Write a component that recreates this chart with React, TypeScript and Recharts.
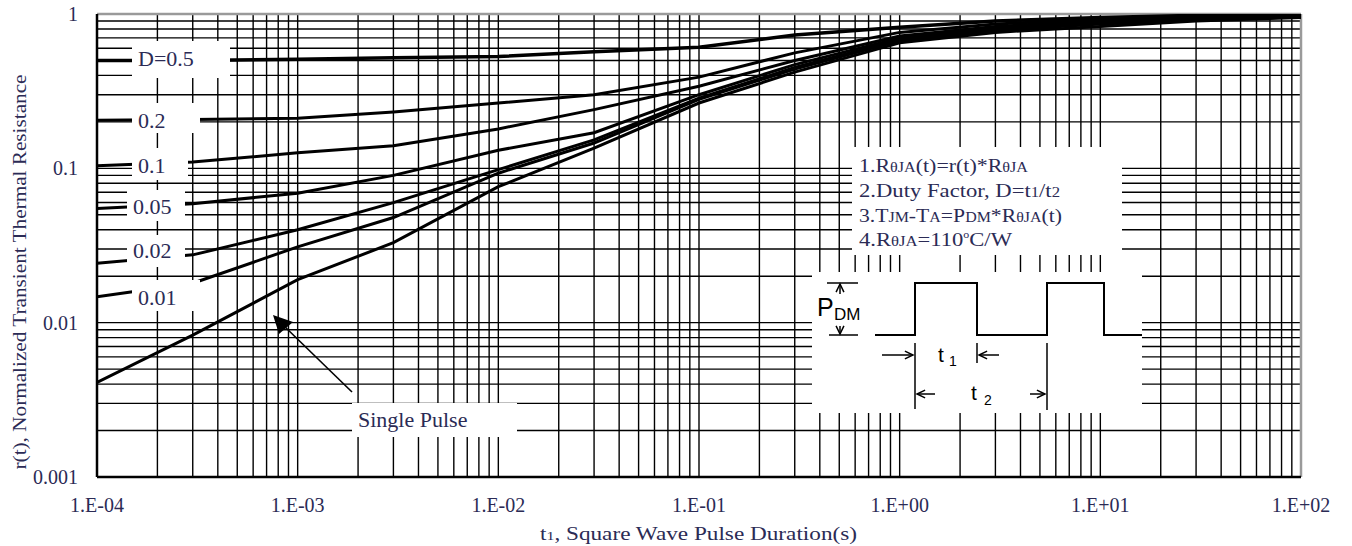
import { LineChart, Line, XAxis, YAxis, CartesianGrid, ReferenceLine } from 'recharts';

// pulse duration t1 (s)
const durations = [1e-4, 3e-4, 1e-3, 3e-3, 1e-2, 3e-2, 1e-1, 3e-1, 1, 3, 10, 30, 100];

// r(t) per duty factor
const duty05 = [0.5, 0.5, 0.51, 0.52, 0.53, 0.57, 0.61, 0.73, 0.82, 0.9, 0.95, 0.98, 1.0];
const duty02 = [0.205, 0.207, 0.211, 0.232, 0.265, 0.3, 0.39, 0.56, 0.76, 0.86, 0.93, 0.96, 0.99];
const duty01 = [0.104, 0.11, 0.126, 0.14, 0.18, 0.24, 0.34, 0.5, 0.72, 0.83, 0.91, 0.94, 0.98];
const duty005 = [0.055, 0.059, 0.069, 0.09, 0.131, 0.17, 0.3, 0.47, 0.7, 0.81, 0.89, 0.93, 0.97];
const duty002 = [0.0243, 0.0275, 0.04, 0.06, 0.098, 0.153, 0.285, 0.45, 0.68, 0.79, 0.87, 0.92, 0.96];
const duty001 = [0.0147, 0.018, 0.031, 0.048, 0.093, 0.146, 0.28, 0.44, 0.67, 0.78, 0.86, 0.91, 0.96];
const singlePulse = [0.0041, 0.0083, 0.019, 0.033, 0.076, 0.135, 0.265, 0.42, 0.65, 0.76, 0.83, 0.9, 0.95];

const xDecades = [1e-4, 1e-3, 1e-2, 1e-1, 1, 10];
const yDecades = [0.001, 0.01, 0.1];
const steps = [1, 2, 3, 4, 5, 6, 7, 8, 9];

const xTicks = [...xDecades.flatMap((d) => steps.map((s) => s * d)), 100];
const yTicks = [...yDecades.flatMap((d) => steps.map((s) => s * d)), 1];

const chartData = durations.map((t, i) => ({
  t,
  d05: duty05[i],
  d02: duty02[i],
  d01: duty01[i],
  d005: duty005[i],
  d002: duty002[i],
  d001: duty001[i],
  single: singlePulse[i],
}));

const seriesKeys = ['d05', 'd02', 'd01', 'd005', 'd002', 'd001', 'single'];

const serif = "'Liberation Serif', 'Times New Roman', serif";
const sans = "'Liberation Sans', Arial, sans-serif";
const textColor = '#2b2b55';

const isDecade = (v: number) => Math.abs(Math.log10(v) - Math.round(Math.log10(v))) < 1e-6;

const fmtX = (v: number) => {
  const e = Math.round(Math.log10(v));
  return `1.E${e < 0 ? '-' : '+'}${String(Math.abs(e)).padStart(2, '0')}`;
};

const fmtY = (v: number) => {
  const e = Math.round(Math.log10(v));
  return e === 0 ? '1' : Math.pow(10, e).toFixed(-e);
};

function XTick(props: any) {
  const { x, payload } = props;
  if (!isDecade(payload.value)) return <g />;
  return (
    <text x={x} y={512} textAnchor="middle" fontFamily={serif} fontSize={20} fill={textColor}>
      {fmtX(payload.value)}
    </text>
  );
}

function YTick(props: any) {
  const { y, payload } = props;
  if (!isDecade(payload.value)) return <g />;
  return (
    <text x={78} y={y + 7} textAnchor="end" fontFamily={serif} fontSize={20} fill={textColor}>
      {fmtY(payload.value)}
    </text>
  );
}

function Arrow({ x1, y1, x2, y2 }: { x1: number; y1: number; x2: number; y2: number }) {
  // simple open arrow pointing at (x2, y2)
  const a = Math.atan2(y2 - y1, x2 - x1);
  const len = 9;
  const spread = 0.45;
  const p1 = [x2 - len * Math.cos(a - spread), y2 - len * Math.sin(a - spread)];
  const p2 = [x2 - len * Math.cos(a + spread), y2 - len * Math.sin(a + spread)];
  return (
    <g stroke="#000" strokeWidth={1.5} fill="none">
      <line x1={x1} y1={y1} x2={x2} y2={y2} />
      <polyline points={`${p1[0]},${p1[1]} ${x2},${y2} ${p2[0]},${p2[1]}`} />
    </g>
  );
}

function Overlay() {
  const small = 14;
  return (
    <svg width={1352} height={546} style={{ position: 'absolute', left: 0, top: 0, pointerEvents: 'none' }}>
      {/* curve labels */}
      <g fill="#fff">
        <rect x={132} y={41} width={98} height={37} />
        <rect x={132} y={103} width={68} height={30} />
        <rect x={132} y={148} width={56} height={32} />
        <rect x={127} y={190} width={58} height={31} />
        <rect x={127} y={235} width={58} height={32} />
        <rect x={132} y={280} width={68} height={31} />
        <rect x={352} y={403} width={165} height={34} />
        <rect x={852} y={147} width={270} height={108} />
        <rect x={812} y={272} width={330} height={141} />
      </g>
      <g fontFamily={serif} fontSize={22} fill={textColor}>
        <text x={138} y={66}>D=0.5</text>
        <text x={138} y={128}>0.2</text>
        <text x={138} y={173}>0.1</text>
        <text x={133} y={214}>0.05</text>
        <text x={133} y={258}>0.02</text>
        <text x={138} y={305}>0.01</text>
        <text x={358} y={427}>Single Pulse</text>
      </g>

      {/* single pulse pointer */}
      <line x1={352} y1={392} x2={282} y2={324} stroke="#000" strokeWidth={1.6} />
      <polygon points="273,315 279,334 293,322" fill="#000" />

      {/* notes */}
      <g fontFamily={serif} fontSize={19} fill={textColor}>
        <text x={859} y={172} textLength={169} lengthAdjust="spacingAndGlyphs">
          1.R<tspan fontSize={small}>θJA</tspan>(t)=r(t)*R<tspan fontSize={small}>θJA</tspan>
        </text>
        <text x={859} y={197} textLength={201} lengthAdjust="spacingAndGlyphs">
          2.Duty Factor, D=t<tspan fontSize={small}>1</tspan>/t<tspan fontSize={small}>2</tspan>
        </text>
        <text x={859} y={222} textLength={203} lengthAdjust="spacingAndGlyphs">
          3.T<tspan fontSize={small}>JM</tspan>-T<tspan fontSize={small}>A</tspan>=P<tspan fontSize={small}>DM</tspan>*R
          <tspan fontSize={small}>θJA</tspan>(t)
        </text>
        <text x={859} y={246} textLength={153} lengthAdjust="spacingAndGlyphs">
          4.R<tspan fontSize={small}>θJA</tspan>=110<tspan fontSize={10} dy={-8}>o</tspan>
          <tspan dy={8}>C/W</tspan>
        </text>
      </g>

      {/* pulse train */}
      <polyline
        points="875,335 915,335 915,283 977,283 977,335 1047,335 1047,283 1104,283 1104,335 1142,335"
        fill="none"
        stroke="#000"
        strokeWidth={2}
      />
      <g stroke="#000" strokeWidth={1.5}>
        <line x1={827} y1={283} x2={858} y2={283} />
        <line x1={829} y1={335} x2={858} y2={335} />
        <line x1={915} y1={343} x2={915} y2={409} />
        <line x1={977} y1={343} x2={977} y2={363} />
        <line x1={1047} y1={343} x2={1047} y2={410} />
      </g>
      <Arrow x1={840} y1={294} x2={840} y2={284} />
      <Arrow x1={840} y1={326} x2={840} y2={334} />
      <Arrow x1={882} y1={355} x2={913} y2={355} />
      <Arrow x1={999} y1={355} x2={979} y2={355} />
      <Arrow x1={935} y1={394} x2={917} y2={394} />
      <Arrow x1={1030} y1={394} x2={1045} y2={394} />
      <g fontFamily={sans} fill="#000">
        <text x={817} y={316} fontSize={25}>P</text>
        <text x={834} y={320} fontSize={17}>DM</text>
        <text x={938} y={362} fontSize={21}>t</text>
        <text x={949} y={366} fontSize={14}>1</text>
        <text x={971} y={400} fontSize={21}>t</text>
        <text x={984} y={405} fontSize={14}>2</text>
      </g>

      {/* axis titles */}
      <text
        x={0}
        y={0}
        transform="translate(26, 272) rotate(-90)"
        textAnchor="middle"
        fontFamily={serif}
        fontSize={19}
        fill={textColor}
        textLength={395}
        lengthAdjust="spacingAndGlyphs"
      >
        r(t),  Normalized Transient Thermal Resistance
      </text>
      <text
        x={540}
        y={540}
        fontFamily={serif}
        fontSize={19}
        fill={textColor}
        textLength={317}
        lengthAdjust="spacingAndGlyphs"
      >
        t<tspan fontSize={13}>1</tspan>, Square Wave Pulse Duration(s)
      </text>
    </svg>
  );
}

export default function App() {
  return (
    <div style={{ position: 'absolute', left: 0, top: 0, width: 1352, height: 546, background: '#fff' }}>
      <style>{'body{margin:0}'}</style>
      <LineChart width={1352} height={546} data={chartData} margin={{ top: 14, right: 51, bottom: 39, left: 17 }}>
        <CartesianGrid stroke="#000" strokeWidth={1.4} />
        <XAxis
          dataKey="t"
          type="number"
          scale="log"
          domain={[1e-4, 100]}
          ticks={xTicks}
          interval={0}
          allowDataOverflow
          tickLine={false}
          axisLine={{ stroke: '#000', strokeWidth: 2.5 }}
          tick={<XTick />}
          height={30}
        />
        <YAxis
          type="number"
          scale="log"
          domain={[0.001, 1]}
          ticks={yTicks}
          interval={0}
          allowDataOverflow
          tickLine={false}
          axisLine={{ stroke: '#000', strokeWidth: 2.5 }}
          tick={<YTick />}
          width={80}
        />
        <ReferenceLine y={1} stroke="#9a9a9a" strokeWidth={2.5} />
        <ReferenceLine x={100} stroke="#9a9a9a" strokeWidth={2.5} />
        {seriesKeys.map((k) => (
          <Line
            key={k}
            type="linear"
            dataKey={k}
            stroke="#000"
            strokeWidth={k === 'd05' ? 3.5 : 3}
            dot={false}
            isAnimationActive={false}
          />
        ))}
      </LineChart>
      <Overlay />
    </div>
  );
}
